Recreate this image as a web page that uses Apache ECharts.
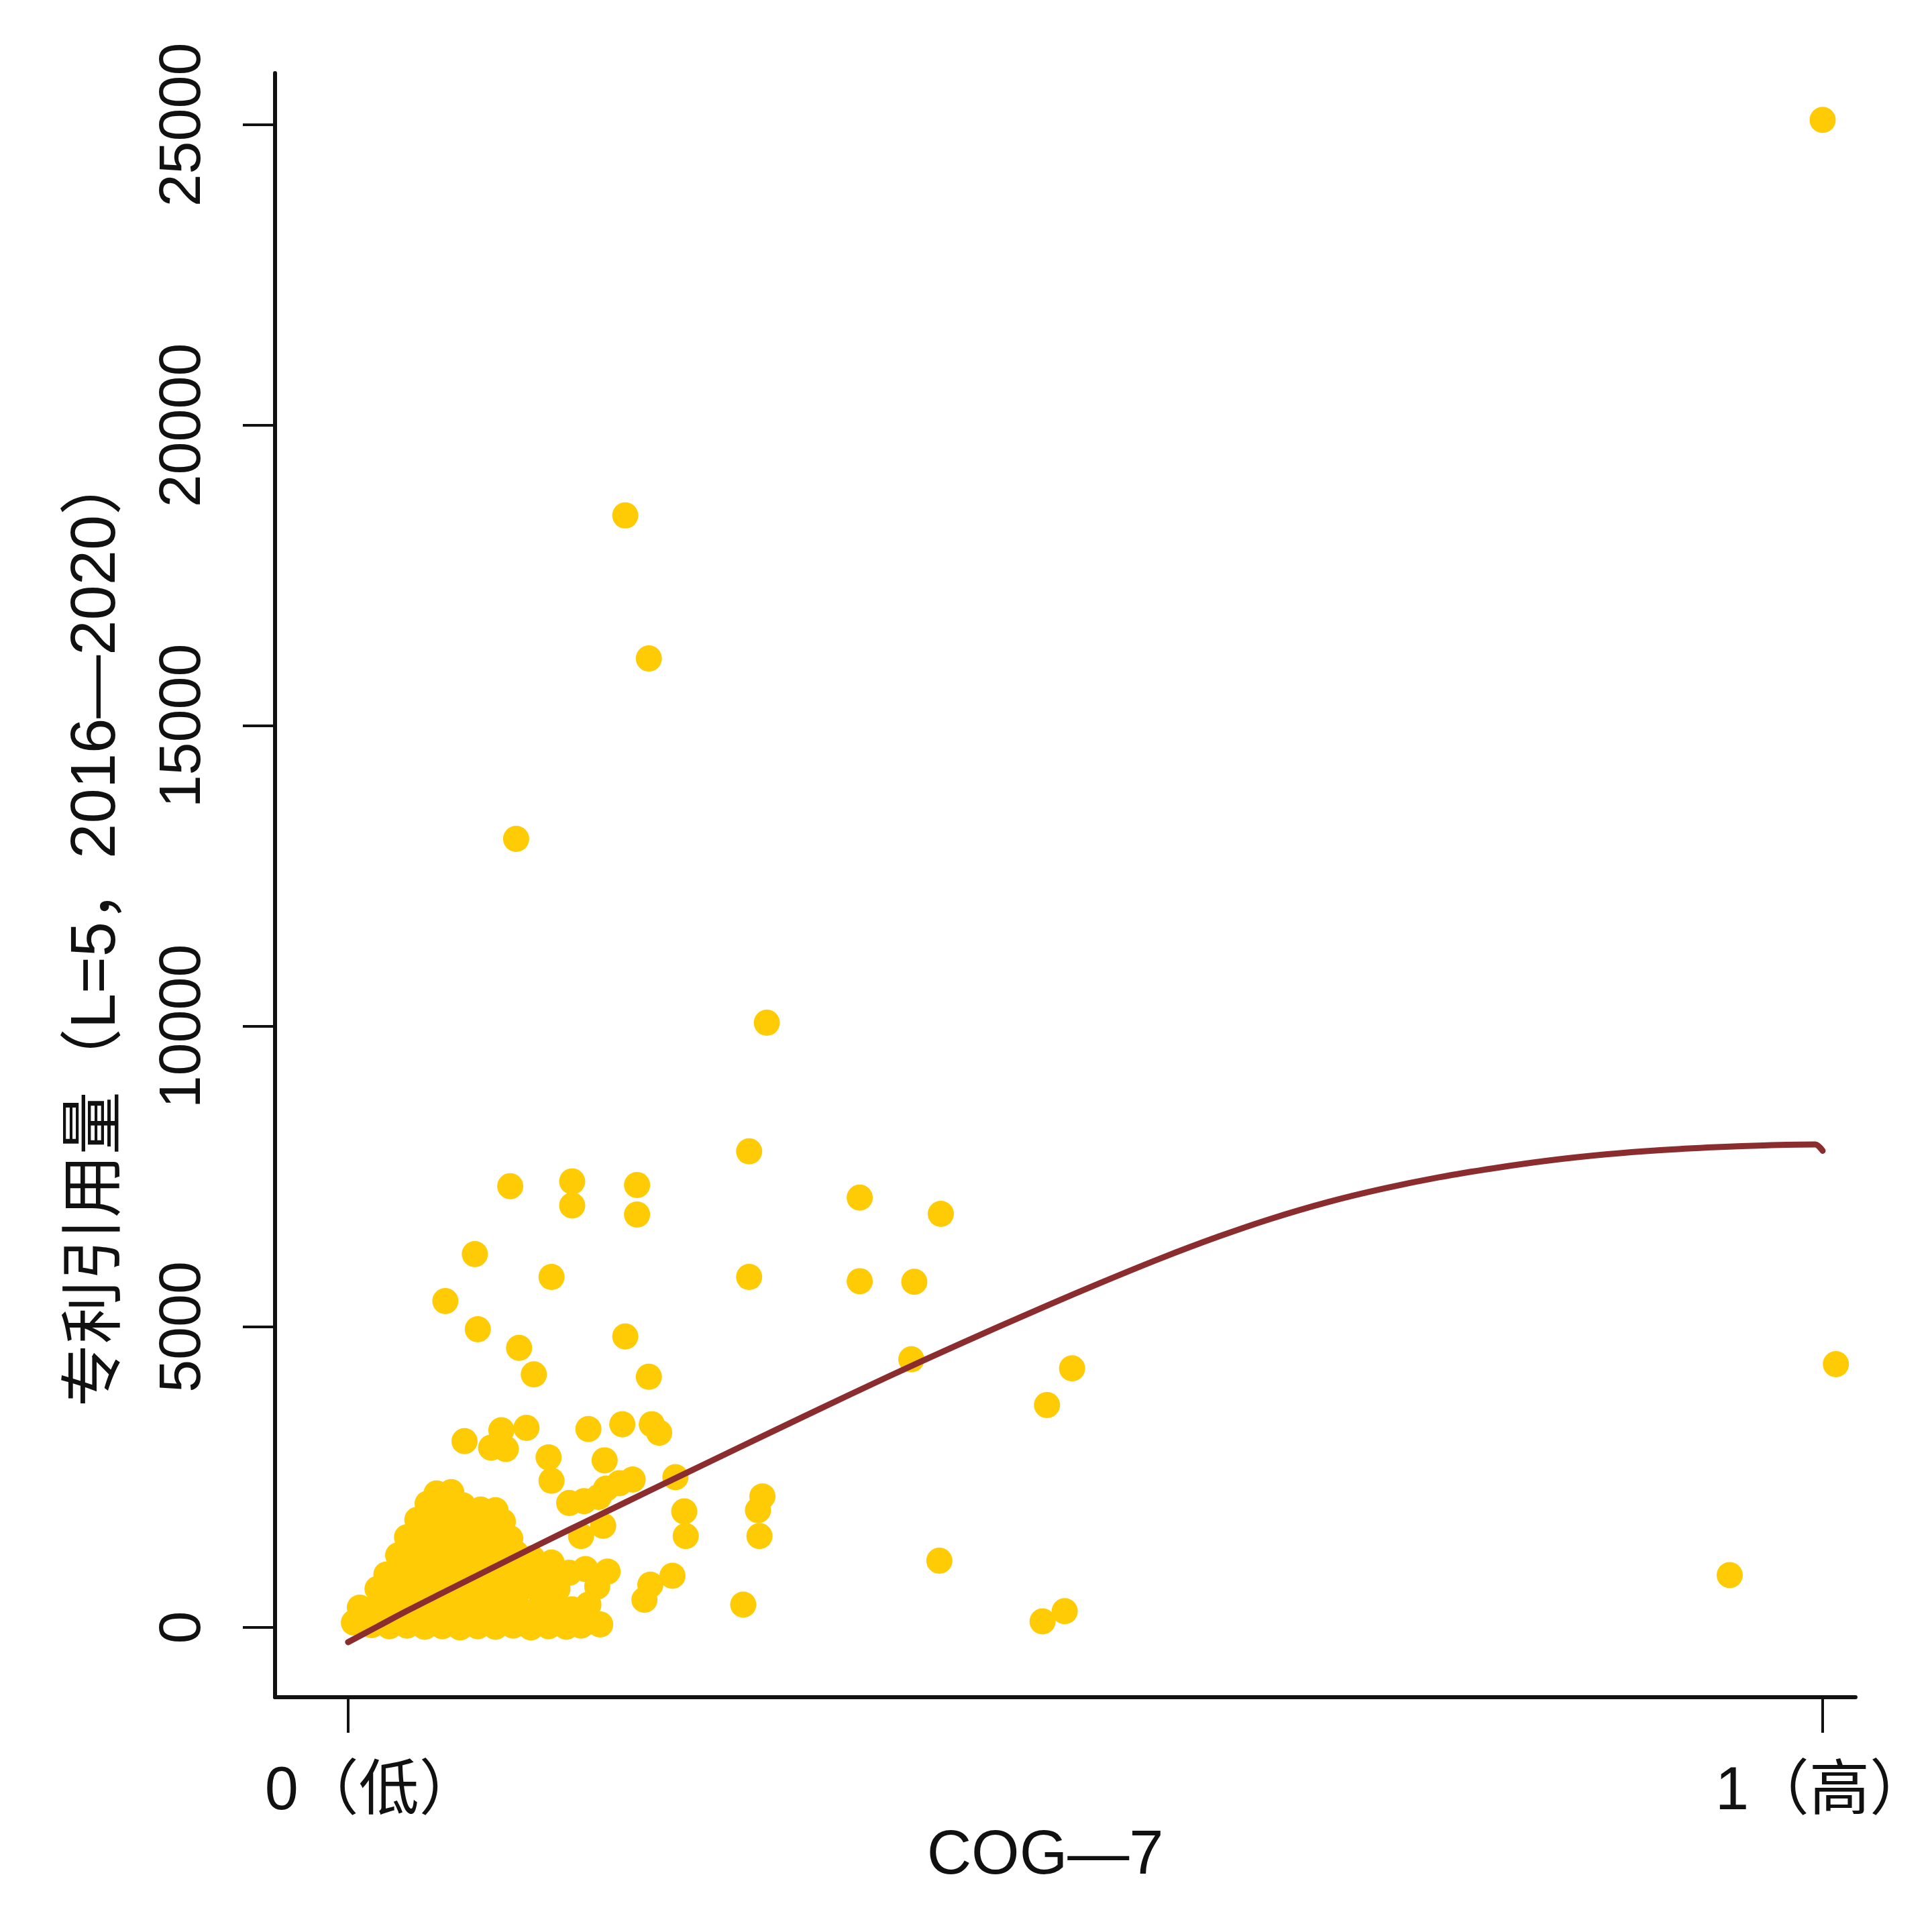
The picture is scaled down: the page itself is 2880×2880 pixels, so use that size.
<!DOCTYPE html>
<html>
<head>
<meta charset="utf-8">
<title>COG-7 vs patent citations</title>
<script src="https://cdn.jsdelivr.net/npm/echarts@6.0.0/dist/echarts.min.js"></script>
<style>
  html, body { margin: 0; padding: 0; background: #fff; }
  #chart { width: 2880px; height: 2880px; }
</style>
</head>
<body>
<div id="chart"></div>
<script>
// 轴刻度
const xTicks = [0, 1];
const xTickLabels = ['0（低）', '1（高）'];
const yTicks = [0, 5000, 10000, 15000, 20000, 25000];

// 离群点 [COG-7, 专利引用量]
const spreadPoints = [
    [1.0, 25080], [0.188, 18500], [0.204, 16120], [0.114, 13120], [0.284, 10060],
    [0.272, 7920], [0.110, 7340], [0.152, 7420], [0.152, 7020], [0.196, 7360],
    [0.196, 6870], [0.347, 7150], [0.402, 6880], [0.086, 6210], [0.138, 5830],
    [0.272, 5830], [0.347, 5760], [0.384, 5750], [0.066, 5430], [0.088, 4960],
    [0.116, 4650], [0.188, 4840], [0.126, 4210], [0.204, 4170], [0.382, 4460],
    [0.491, 4310], [0.474, 3700], [1.009, 4380], [0.401, 1110], [0.937, 870],
    [0.471, 100], [0.486, 270], [0.268, 380]
];

// 聚集区外围的点
const nearPoints = [
    [0.163, 3300], [0.186, 3380], [0.206, 3380], [0.211, 3240], [0.174, 2780],
    [0.193, 2460], [0.184, 2400], [0.175, 2310], [0.222, 2500], [0.160, 2100],
    [0.170, 2170], [0.150, 2070], [0.173, 1690], [0.158, 1520], [0.228, 1930],
    [0.229, 1520], [0.281, 2180], [0.278, 1950], [0.279, 1520], [0.161, 970],
    [0.176, 930], [0.169, 680], [0.201, 460], [0.205, 710], [0.220, 860],
    [0.163, 380], [0.165, 100], [0.079, 3100], [0.097, 2990], [0.104, 3280],
    [0.107, 2970], [0.121, 3320], [0.136, 2830], [0.138, 2440], [0.171, 50],
    [0.125, 1150], [0.138, 1080]
];

// 原点附近的密集点
const densePoints = [
    [0.004, 80], [0.016, 40], [0.028, 20], [0.040, 30], [0.052, 10], [0.064, 20],
    [0.076, 0], [0.088, 20], [0.100, 10], [0.112, 30], [0.124, 0], [0.136, 20],
    [0.148, 10], [0.158, 30],
    [0.008, 330], [0.020, 300], [0.032, 340], [0.044, 310], [0.056, 330], [0.068, 290],
    [0.080, 320], [0.092, 300], [0.104, 340], [0.116, 310], [0.128, 290], [0.140, 330],
    [0.152, 300],
    [0.020, 640], [0.032, 620], [0.044, 600], [0.056, 640], [0.068, 610], [0.080, 630],
    [0.092, 600], [0.104, 640], [0.116, 620], [0.130, 600], [0.142, 640],
    [0.026, 880], [0.038, 920], [0.050, 900], [0.062, 930], [0.074, 890], [0.086, 910],
    [0.098, 880], [0.110, 920], [0.122, 900], [0.136, 880], [0.150, 910],
    [0.034, 1200], [0.046, 1220], [0.058, 1190], [0.070, 1230], [0.082, 1200],
    [0.094, 1210], [0.106, 1190], [0.114, 1230],
    [0.040, 1500], [0.052, 1520], [0.064, 1490], [0.076, 1510], [0.090, 1500],
    [0.102, 1520], [0.110, 1480],
    [0.047, 1790], [0.059, 1820], [0.071, 1800], [0.083, 1780], [0.095, 1810], [0.105, 1760],
    [0.054, 2060], [0.066, 2090], [0.078, 2030], [0.090, 1960], [0.100, 1950],
    [0.060, 2230], [0.070, 2250]
];

// 拟合曲线
const fitX = [0, 0.02, 0.04, 0.084, 0.129, 0.169, 0.21, 0.24, 0.29, 0.34, 0.39, 0.44, 0.476,
    0.51, 0.551, 0.59, 0.626, 0.665, 0.702, 0.74, 0.777, 0.815, 0.853, 0.89, 0.928, 0.96, 0.995, 1.0];
const fitY = [-245, 15, 275, 820, 1373, 1853, 2340, 2695, 3285, 3870, 4440, 4990, 5375,
    5730, 6140, 6500, 6800, 7080, 7300, 7490, 7640, 7770, 7870, 7940, 7990, 8020, 8035, 7930];

const FONT = "'Liberation Sans', 'Noto Sans CJK SC', sans-serif";
const INK = '#111111';

function addChart(dom, option) {
    let myChart = echarts.init(dom);
    myChart.setOption(option);
    window.addEventListener('resize', function() {
        myChart.resize();
    });
    return myChart;
}

const option = {
    animation: false,
    backgroundColor: '#ffffff',
    grid: { left: 410, right: 112, top: 109, bottom: 350 },
    xAxis: {
        type: 'value',
        min: -0.0495,
        max: 1.0223,
        splitLine: { show: false },
        axisLine: { onZero: false, lineStyle: { color: INK, width: 6 } },
        axisTick: { customValues: xTicks, length: 53, lineStyle: { color: INK, width: 4 } },
        axisLabel: {
            customValues: xTicks,
            margin: 97,
            fontSize: 90,
            color: INK,
            fontFamily: FONT,
            formatter: function(v) {
                return v === 0 ? '{lo|' + xTickLabels[0] + '}' : xTickLabels[1];
            },
            rich: {
                lo: { padding: [0, 0, 0, 72], fontSize: 90, color: INK, fontFamily: FONT }
            }
        },
        name: 'COG—7',
        nameLocation: 'middle',
        nameGap: 185,
        nameTextStyle: { fontSize: 92, color: INK, fontFamily: FONT, padding: [0, 60, 0, 0] }
    },
    yAxis: {
        type: 'value',
        min: -1161,
        max: 25859,
        splitLine: { show: false },
        axisLine: { onZero: false, lineStyle: { color: INK, width: 6 } },
        axisTick: { customValues: yTicks, length: 48, lineStyle: { color: INK, width: 4 } },
        axisLabel: {
            customValues: yTicks,
            rotate: 90,
            margin: 92,
            fontSize: 88,
            color: INK,
            fontFamily: FONT,
            formatter: function(v) {
                return String(v);
            }
        },
        name: '专利引用量（L=5，2016—2020）',
        nameLocation: 'middle',
        nameRotate: 90,
        nameGap: 218,
        nameTextStyle: { fontSize: 94, color: INK, fontFamily: FONT, padding: [0, 132, 0, 0] }
    },
    series: [
        {
            type: 'scatter',
            symbol: 'circle',
            symbolSize: 39,
            itemStyle: { color: '#FFCB05', opacity: 1 },
            data: densePoints.concat(nearPoints, spreadPoints),
            z: 2
        },
        {
            type: 'line',
            smooth: 0.3,
            showSymbol: false,
            lineStyle: { color: '#8B2C2E', width: 9, cap: 'round' },
            data: fitX.map((x, i) => [x, fitY[i]]),
            z: 3
        }
    ]
};

addChart(document.getElementById('chart'), option);
</script>
</body>
</html>
